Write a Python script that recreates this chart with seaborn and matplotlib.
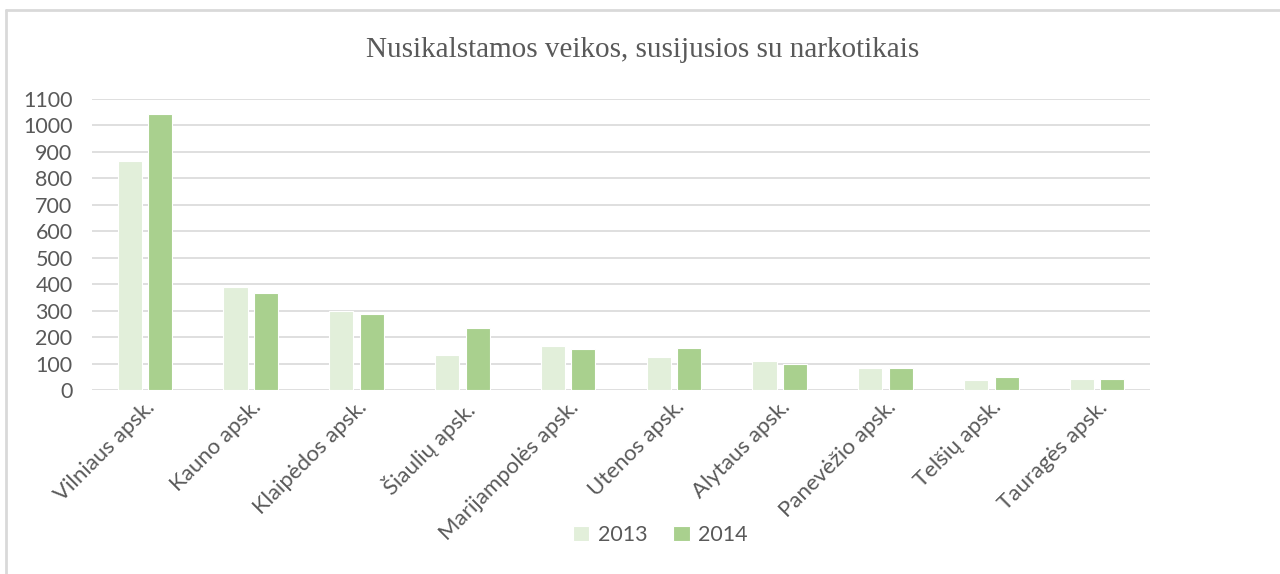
import matplotlib
matplotlib.use('Agg')
import matplotlib.pyplot as plt
import seaborn as sns
import pandas as pd
from matplotlib.lines import Line2D

regions = ['Vilniaus apsk.', 'Kauno apsk.', 'Klaipėdos apsk.', 'Šiaulių apsk.',
           'Marijampolės apsk.', 'Utenos apsk.', 'Alytaus apsk.', 'Panevėžio apsk.',
           'Telšių apsk.', 'Tauragės apsk.']
years = ['2013', '2014']
values_2013 = [865, 389, 300, 131, 165, 126, 111, 83, 39, 40]
values_2014 = [1044, 366, 288, 233, 155, 160, 98, 83, 49, 40]

df = pd.DataFrame({
    'region': regions * 2,
    'year': [years[0]] * len(regions) + [years[1]] * len(regions),
    'count': values_2013 + values_2014,
})

sns.set_theme(style='white')
plt.rcParams['font.family'] = ['Lato', 'DejaVu Sans']

fig = plt.figure(figsize=(12.8, 5.74), dpi=100)
ax = fig.add_axes([0.0719, 0.3206, 0.8266, 0.5069])

sns.barplot(data=df, x='region', y='count', hue='year', ax=ax,
            palette=['#E2EFDA', '#A9D08E'], saturation=1, width=0.577, gap=0.21,
            edgecolor='white', linewidth=0.8, errorbar=None, zorder=3)

ax.set_ylim(0, 1100)
ax.set_xlim(-0.5, len(regions) - 0.5)
ax.set_yticks(range(0, 1101, 100))
ax.yaxis.grid(True, color='#D9D9D9', linewidth=1.2, zorder=0)
ax.set_axisbelow(True)
for s in ax.spines.values():
    s.set_visible(False)
ax.set_xlabel('')
ax.set_ylabel('')
ax.tick_params(axis='y', labelsize=15.5, labelcolor='#595959', length=0, pad=14)
ax.tick_params(axis='x', labelsize=16, labelcolor='#595959', length=0, pad=5)
plt.setp(ax.get_xticklabels(), rotation=45, ha='right', rotation_mode='anchor')

fig.text(0.502, 0.913, 'Nusikalstamos veikos, susijusios su narkotikais',
         ha='center', va='center', fontsize=21, color='#595959',
         family='Liberation Serif')

ax.legend(loc='center', bbox_to_anchor=(0.516, 0.068), bbox_transform=fig.transFigure,
          ncol=2, frameon=False, fontsize=15.5, labelcolor='#595959',
          handlelength=0.75, handleheight=0.75, handletextpad=0.4, columnspacing=1.2)

# thin border of the chart area
fig.add_artist(Line2D([0.0045, 0.0045], [0, 0.982], color='#D9D9D9', lw=2, transform=fig.transFigure))
fig.add_artist(Line2D([0.0045, 1.0], [0.982, 0.982], color='#D9D9D9', lw=2, transform=fig.transFigure))

fig.savefig('out.png', dpi=100)
